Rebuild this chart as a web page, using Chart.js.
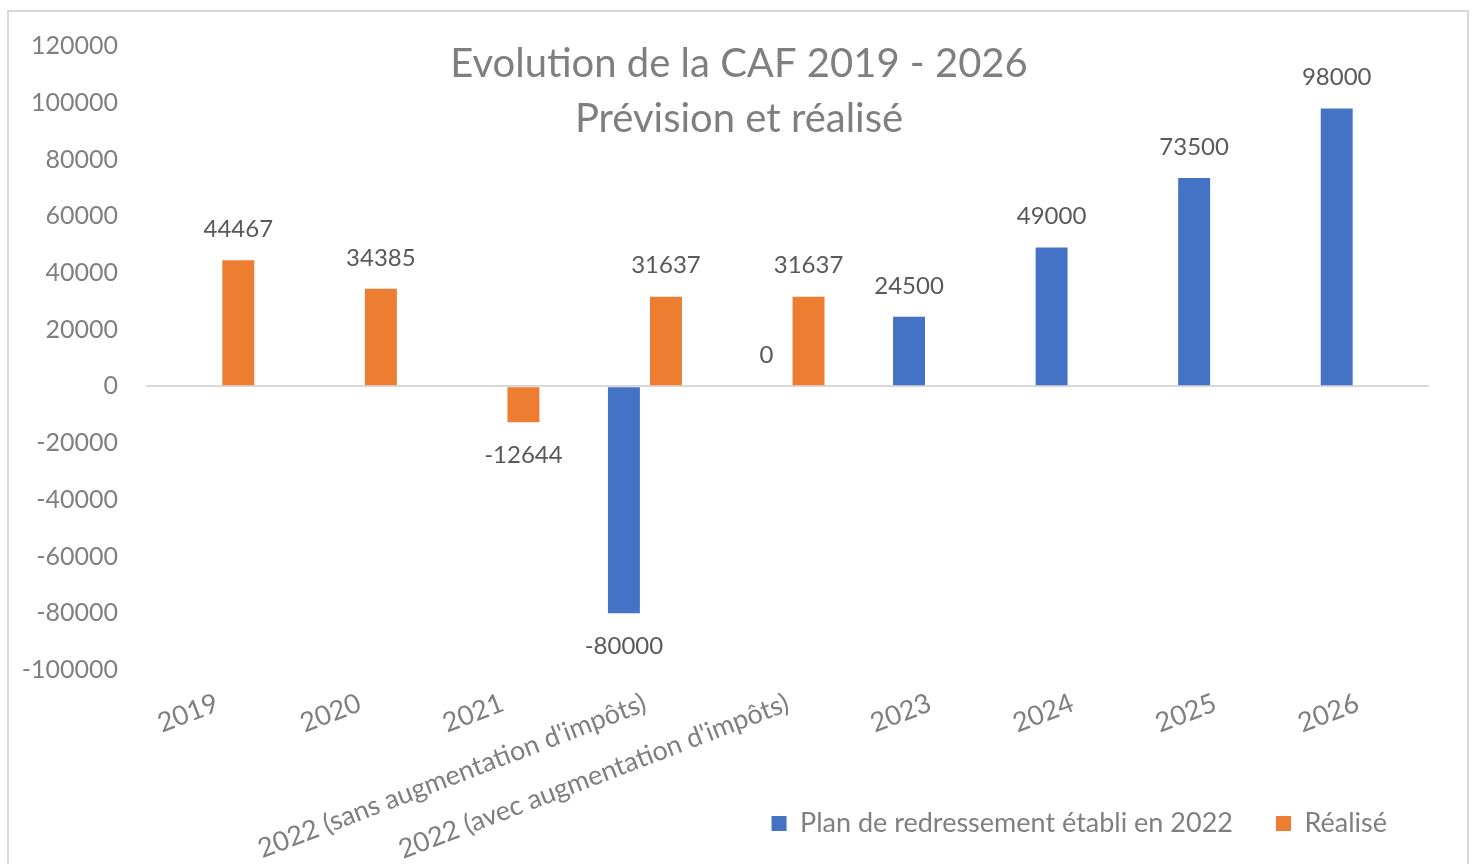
<!DOCTYPE html>
<html>
<head>
<meta charset="utf-8">
<script src="https://cdn.jsdelivr.net/npm/chart.js@4"></script>
<style>
  html, body { margin: 0; padding: 0; background: #fff; }
  #wrap { position: relative; width: 1478px; height: 864px; }
  #frame { position: absolute; left: 7px; top: 10px; width: 1462px; height: 860px; border: 2px solid #d9d9d9; box-sizing: border-box; pointer-events: none; }
</style>
</head>
<body>
<div id="wrap">
  <canvas id="cafChart" width="1478" height="864"></canvas>
  <div id="frame"></div>
</div>
<script>
const categories = ['2019', '2020', '2021', "2022 (sans augmentation d'impôts)", "2022 (avec augmentation d'impôts)", '2023', '2024', '2025', '2026'];
const planValues = [null, null, null, -80000, 0, 24500, 49000, 73500, 98000];
const realiseValues = [44467, 34385, -12644, 31637, 31637, null, null, null, null];
const titleLines = ['Evolution de la CAF 2019 - 2026', 'Prévision et réalisé'];

const fontFamily = 'Lato, "Open Sans", sans-serif';
const greyText = '#7f7f7f';

// titre superposé sur la zone du graphique (comme dans Excel)
const overlayTitle = {
    id: 'overlayTitle',
    afterDraw(chart) {
        const ctx = chart.ctx;
        ctx.save();
        ctx.fillStyle = greyText;
        ctx.font = '40px ' + fontFamily;
        ctx.textAlign = 'center';
        ctx.textBaseline = 'middle';
        const cx = chart.width / 2;
        ctx.fillText(titleLines[0], cx, 64);
        ctx.fillText(titleLines[1], cx, 119);
        ctx.restore();
    }
};

// étiquettes de valeurs au-dessus / en dessous des barres
const valueLabels = {
    id: 'valueLabels',
    afterDatasetsDraw(chart) {
        const ctx = chart.ctx;
        ctx.save();
        ctx.fillStyle = '#595959';
        ctx.font = '24px ' + fontFamily;
        ctx.textAlign = 'center';
        ctx.textBaseline = 'middle';
        chart.data.datasets.forEach((ds, i) => {
            const meta = chart.getDatasetMeta(i);
            meta.data.forEach((bar, j) => {
                const v = ds.data[j];
                if (v === null || v === undefined) return;
                const y = v < 0 ? bar.y + 33 : bar.y - 31;
                ctx.fillText(String(v), bar.x, y);
            });
        });
        ctx.restore();
    }
};

// les étiquettes de l'axe x débordent sous la légende : on agrandit leur zone de dessin
const extendXLabels = {
    id: 'extendXLabels',
    afterLayout(chart) {
        chart.scales.x.bottom = chart.height;
        chart.legend.right = chart.chartArea.right + 1;
    }
};

const ctx = document.getElementById('cafChart').getContext('2d');
new Chart(ctx, {
    type: 'bar',
    data: {
        labels: categories,
        datasets: [{
            label: 'Plan de redressement établi en 2022',
            data: planValues,
            backgroundColor: '#4472c4',
            categoryPercentage: 0.59,
            barPercentage: 0.76,
        }, {
            label: 'Réalisé',
            data: realiseValues,
            backgroundColor: '#ed7d31',
            categoryPercentage: 0.59,
            barPercentage: 0.76,
        }],
    },
    options: {
        responsive: false,
        animation: false,
        layout: {
            padding: { left: 0, right: 49, top: 46, bottom: 17 },
        },
        plugins: {
            title: { display: false },
            tooltip: { enabled: false },
            legend: {
                position: 'bottom',
                align: 'end',
                labels: {
                    boxWidth: 15,
                    boxHeight: 15,
                    padding: 43,
                    color: greyText,
                    font: { size: 27, family: fontFamily },
                },
            },
        },
        scales: {
            x: {
                grid: { display: false, drawTicks: false },
                border: { display: false },
                ticks: {
                    color: greyText,
                    font: { size: 27, family: fontFamily },
                    maxRotation: 21,
                    minRotation: 21,
                    padding: 17,
                    autoSkip: false,
                },
                afterFit: (scale) => { scale.height = 97; },
            },
            y: {
                min: -100000,
                max: 120000,
                border: { display: false },
                grid: {
                    drawTicks: false,
                    color: (c) => (c.tick && c.tick.value === 0 ? '#d9d9d9' : 'rgba(0,0,0,0)'),
                    lineWidth: 2,
                },
                ticks: {
                    stepSize: 20000,
                    color: greyText,
                    padding: 28,
                    font: { size: 25, family: fontFamily },
                    callback: (v) => String(v),
                },
                afterFit: (scale) => { scale.width = 146; },
            },
        },
    },
    plugins: [overlayTitle, valueLabels, extendXLabels],
});
</script>
</body>
</html>
